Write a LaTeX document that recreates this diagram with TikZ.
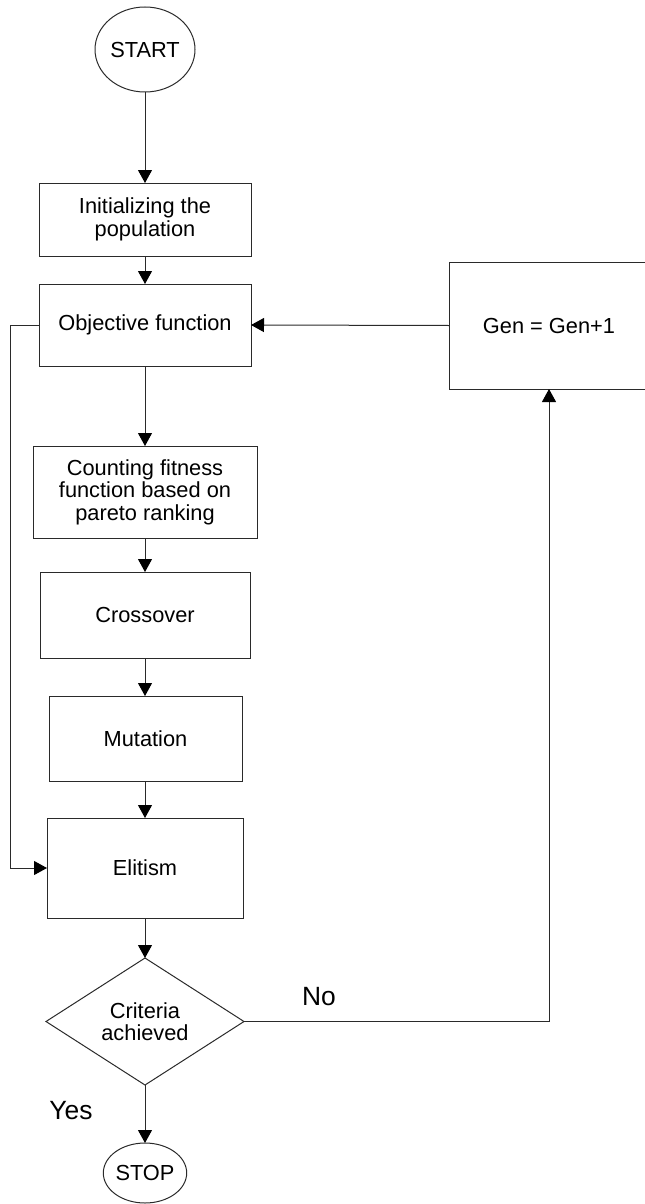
\documentclass[tikz,border=0pt]{standalone}
\usepackage{fontspec}
\setmainfont{Liberation Sans}
\usepackage{tikz}
\usetikzlibrary{arrows.meta,shapes.geometric}
\definecolor{edge}{HTML}{2A2A2A}

\begin{document}
\begin{tikzpicture}[x=0.5pt, y=-0.5pt,
  font=\fontsize{10.9}{11.2}\selectfont,
  box/.style={draw=edge, line width=0.5pt, rectangle, inner sep=0pt, outer sep=0pt, align=center},
  term/.style={draw=edge, line width=0.5pt, ellipse, inner sep=0pt, outer sep=0pt},
  flow/.style={draw=edge, line width=0.5pt, -{Triangle[length=6.5pt,width=7pt,color=black]}},
  lbl/.style={font=\fontsize{13.2}{15}\selectfont}]
\useasboundingbox (0,0) rectangle (644,1204);
% main column
\node[term, minimum width=50pt, minimum height=42.5pt] (start) at (145,49.5) {START};
\node[box, minimum width=106pt, minimum height=36.5pt] (init) at (145,219.5) {Initializing the\\ population};
\node[box, minimum width=106pt, minimum height=41pt] (objfn) at (145,325) {Objective function};
\node[box, minimum width=112pt, minimum height=46pt] (fitness) at (145,492) {Counting fitness\\ function based on\\ pareto ranking};
\node[box, minimum width=105pt, minimum height=43pt] (crossover) at (145,615) {Crossover};
\node[box, minimum width=96.5pt, minimum height=42.5pt] (mutation) at (145.5,738.5) {Mutation};
\node[box, minimum width=98pt, minimum height=50pt] (elitism) at (145,868) {Elitism};
\node[draw=edge, line width=0.5pt, diamond, aspect=1.56, inner sep=0pt, outer sep=0pt,
  minimum width=99pt, minimum height=63.5pt, align=center] (criteria) at (145,1021.5) {Criteria\\ achieved};
\node[term, minimum width=38pt, minimum height=30pt] (stop) at (145,1173) {STOP};
% loop back
\node[box, minimum width=100pt, minimum height=63.5pt] (gen) at (549,325.5) {Gen = Gen+1};
\coordinate (lp) at (10,325);

\draw[flow] (start) -- (init);
\draw[flow] (init) -- (objfn);
\draw[flow] (objfn) -- (fitness);
\draw[flow] (fitness) -- (crossover);
\draw[flow] (crossover) -- (mutation.north -| crossover.south);
\draw[flow] (mutation.south -| crossover.south) -- (elitism.north);
\draw[flow] (elitism) -- (criteria);
\draw[flow] (criteria) -- (stop);
\draw[flow] (gen.west) -- (objfn.east);
\draw[flow] (criteria.east) -| (gen.south);
\draw[flow] (objfn.west) -- (lp) |- (elitism.west);

\node[lbl] (no) at (319,997) {No};
\node[lbl] (yes) at (71,1111) {Yes};
\end{tikzpicture}
\end{document}
